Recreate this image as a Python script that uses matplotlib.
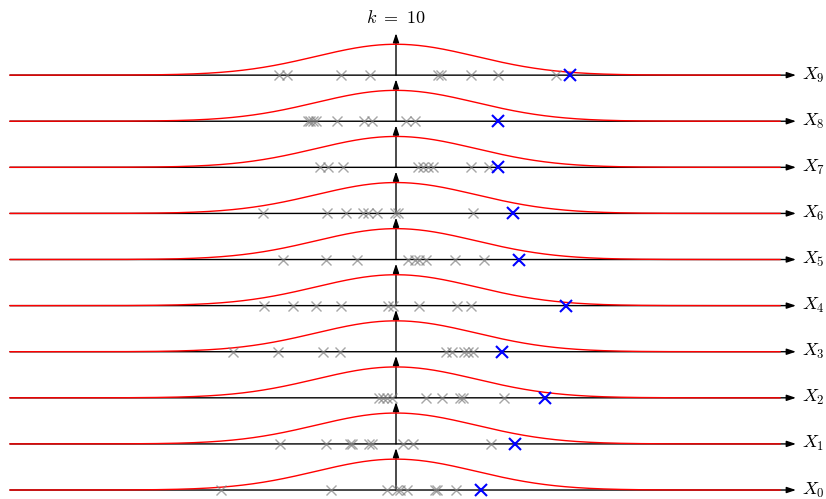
import numpy as np
import matplotlib
matplotlib.use("Agg")
import matplotlib.pyplot as plt

plt.rcParams['mathtext.fontset'] = 'cm'

k = 10
# samples drawn for each X_i (gray) and the largest one of each row (blue)
samples = [
    [-2.19, -0.81, -0.11, 0.01, 0.05, 0.14, 0.49, 0.51, 0.75],   # X0
    [-1.45, -0.88, -0.58, -0.55, -0.34, -0.30, 0.09, 0.21, 1.19],  # X1
    [-0.21, -0.16, -0.11, -0.05, 0.38, 0.58, 0.80, 0.84, 1.35],  # X2
    [-2.04, -1.48, -0.91, -0.70, 0.63, 0.70, 0.85, 0.90, 0.96],  # X3
    [-1.65, -1.29, -1.00, -0.69, -0.10, -0.04, 0.29, 0.76, 0.94],  # X4
    [-1.41, -0.88, -0.49, 0.15, 0.24, 0.29, 0.38, 0.74, 1.10],  # X5
    [-1.66, -0.86, -0.63, -0.41, -0.35, -0.24, -0.01, 0.03, 0.96],  # X6
    [-0.95, -0.85, -0.66, 0.28, 0.34, 0.40, 0.46, 0.94, 1.16],  # X7
    [-1.10, -1.08, -1.04, -1.00, -0.74, -0.40, -0.30, 0.13, 0.24],  # X8
    [-1.46, -1.36, -0.69, -0.33, 0.53, 0.56, 0.94, 1.28, 2.00],  # X9
]
maxima = [1.06, 1.49, 1.86, 1.33, 2.13, 1.54, 1.46, 1.28, 1.27, 2.18]
labels = ['$X_{%d}$' % i for i in range(k)]

xmin, xmax = -4.825, 5.0
peak = 0.67      # height of the density curve in row units
vlen = 0.91      # length of the vertical arrow

fig = plt.figure(figsize=(8.26, 4.99), dpi=100)
ax = fig.add_axes([0, 0, 1, 1])
ax.set_xlim(-4.95, 5.375)
ax.set_ylim(-0.195, 10.63)
ax.axis('off')

xs = np.linspace(xmin, 4.8, 600)
dens = np.exp(-xs**2 / 2)

arrow = dict(arrowstyle='-|>,head_length=0.6,head_width=0.2', color='black',
             lw=1, shrinkA=0, shrinkB=0, mutation_scale=9)

for i in range(k):
    # horizontal axis
    ax.annotate('', xy=(xmax, i), xytext=(xmin, i), arrowprops=arrow, zorder=1)
    # vertical axis
    ax.annotate('', xy=(0, i + vlen), xytext=(0, i), arrowprops=arrow, zorder=1)
    ax.plot(xs, i + peak * dens, color='red', lw=1, zorder=2)
    ax.plot(samples[i], [i] * len(samples[i]), 'x', color='gray', alpha=0.7,
            ms=7, mew=1, zorder=3)
    ax.plot(maxima[i], i, 'x', color='blue', ms=8, mew=1.5, zorder=4)
    ax.text(xmax + 0.07, i, labels[i], fontsize=13, va='center', ha='left')

ax.text(0, 10.24, '$k\\ =\\ %d$' % k, fontsize=13, ha='center', va='center')

fig.savefig('out.png', dpi=100)
